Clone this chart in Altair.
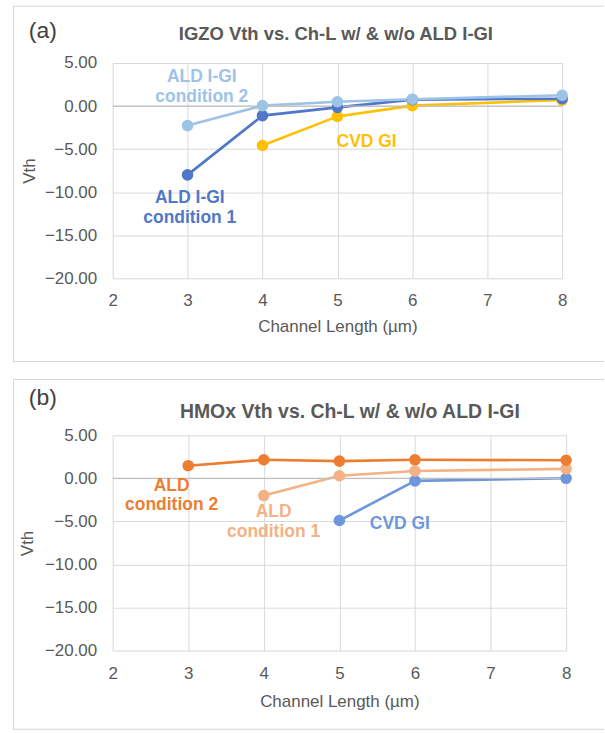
import altair as alt
import pandas as pd

FONT = "Liberation Sans"
GRAY = "#595959"

# ---------- data: panel (a) IGZO ----------
a_series = ["CVD GI", "ALD I-GI condition 1", "ALD I-GI condition 2"]
a_colors = ["#FFC000", "#4F78C8", "#9DC3E6"]
a_x_cvd = [4, 5, 6, 8]
a_y_cvd = [-4.58, -1.2, 0.05, 0.7]
a_x_c1 = [3, 4, 5, 6, 8]
a_y_c1 = [-7.99, -1.11, -0.15, 0.75, 0.85]
a_x_c2 = [3, 4, 5, 6, 8]
a_y_c2 = [-2.27, 0.05, 0.5, 0.8, 1.25]
a_lab_text = ["ALD I-GI\ncondition 2", "ALD I-GI\ncondition 1", "CVD GI"]
a_lab_series = ["ALD I-GI condition 2", "ALD I-GI condition 1", "CVD GI"]
a_lab_x = [3.19, 3.03, 5.39]
a_lab_y = [3.36, -10.69, -4.16]

# ---------- data: panel (b) HMOx ----------
b_series = ["CVD GI", "ALD condition 1", "ALD condition 2"]
b_colors = ["#6E96DC", "#F4B183", "#ED7D31"]
b_x_cvd = [5, 6, 8]
b_y_cvd = [-4.9, -0.3, 0.0]
b_x_c1 = [4, 5, 6, 8]
b_y_c1 = [-2.0, 0.3, 0.85, 1.1]
b_x_c2 = [3, 4, 5, 6, 8]
b_y_c2 = [1.47, 2.16, 2.0, 2.15, 2.1]
b_lab_text = ["ALD\ncondition 2", "ALD\ncondition 1", "CVD GI"]
b_lab_series = ["ALD condition 2", "ALD condition 1", "CVD GI"]
b_lab_x = [2.78, 4.13, 5.8]
b_lab_y = [-0.85, -3.95, -5.31]

x_ticks = [2, 3, 4, 5, 6, 7, 8]
y_ticks = [-20, -15, -10, -5, 0, 5]


def series_df(names, xs, ys):
    rows = []
    for n, xv, yv in zip(names, xs, ys):
        for a, b in zip(xv, yv):
            rows.append({"series": n, "x": a, "y": b})
    return pd.DataFrame(rows)


def panel(names, colors, xs, ys, lab_text, lab_series, lab_x, lab_y,
          tag, title, w, h, tag_xy, title_xy, title_size,
          rect, vth_x, xlab_pad, xtitle_y):
    df = series_df(names, xs, ys)
    color = alt.Color("series:N", scale=alt.Scale(domain=names, range=colors), legend=None)
    xenc = alt.X("x:Q", scale=alt.Scale(domain=[2, 8], nice=False),
                 axis=alt.Axis(values=x_ticks, format="d", labelFlush=False,
                               title="Channel Length (µm)", labelPadding=xlab_pad,
                               titleY=xtitle_y, titleBaseline="middle"))
    yenc = alt.Y("y:Q", scale=alt.Scale(domain=[-20, 5], nice=False),
                 axis=alt.Axis(values=y_ticks, format=".2f", title="Vth", labelPadding=16,
                               titleX=vth_x, titleY=h / 2, titleAngle=270,
                               titleAlign="center", titleBaseline="middle"))
    one = pd.DataFrame({"k": [0]})
    x0, x1, y0, y1 = rect
    bstyle = dict(color="#D6D6D6", strokeWidth=1)
    b_top = alt.Chart(one).mark_rule(**bstyle).encode(
        x=alt.value(x0), x2=alt.value(x1), y=alt.value(y0))
    b_bot = alt.Chart(one).mark_rule(**bstyle).encode(
        x=alt.value(x0), x2=alt.value(x1), y=alt.value(y1))
    b_left = alt.Chart(one).mark_rule(**bstyle).encode(
        x=alt.value(x0), y=alt.value(y0), y2=alt.value(y1))
    zero = alt.Chart(pd.DataFrame({"y": [0]})).mark_rule(color="#BFBFBF", strokeWidth=1.2).encode(
        y=alt.Y("y:Q", scale=alt.Scale(domain=[-20, 5], nice=False)))
    lines = alt.Chart(df).mark_line(strokeWidth=2.6).encode(x=xenc, y=yenc, color=color, detail="series:N")
    points = alt.Chart(df).mark_point(filled=True, size=135, opacity=1).encode(
        x="x:Q", y="y:Q", color=color)
    labdf = pd.DataFrame({"t": lab_text, "series": lab_series, "x": lab_x, "y": lab_y})
    labels = alt.Chart(labdf).mark_text(font=FONT, fontSize=17.5, fontWeight="bold", lineBreak="\n",
                                        lineHeight=19.5, align="center", baseline="middle").encode(
        x="x:Q", y="y:Q", text="t:N", color=color)
    tagc = alt.Chart(pd.DataFrame({"t": [tag]})).mark_text(
        font=FONT, fontSize=23, color="#404040", align="center", baseline="middle").encode(
        text="t:N", x=alt.value(tag_xy[0]), y=alt.value(tag_xy[1]))
    titlec = alt.Chart(pd.DataFrame({"t": [title]})).mark_text(
        font=FONT, fontSize=title_size, fontWeight="bold", color=GRAY, align="center",
        baseline="middle").encode(text="t:N", x=alt.value(title_xy[0]), y=alt.value(title_xy[1]))
    return alt.layer(b_top, b_bot, b_left, lines, zero, points, labels, tagc, titlec).properties(
        width=w, height=h)


pa = panel(a_series, a_colors, [a_x_cvd, a_x_c1, a_x_c2], [a_y_cvd, a_y_c1, a_y_c2],
           a_lab_text, a_lab_series, a_lab_x, a_lab_y,
           "(a)", "IGZO Vth vs. Ch-L w/ & w/o ALD I-GI", 451, 216,
           (-70, -32), (224, -29), 18.5, (-99.5, 493, -57, 299.5), -83, 14, 48)
pb = panel(b_series, b_colors, [b_x_cvd, b_x_c1, b_x_c2], [b_y_cvd, b_y_c1, b_y_c2],
           b_lab_text, b_lab_series, b_lab_x, b_lab_y,
           "(b)", "HMOx Vth vs. Ch-L w/ & w/o ALD I-GI", 455, 216,
           (-70, -37), (238, -23), 19.5, (-99.5, 493, -56, 295), -85, 15, 51)

chart = alt.vconcat(pa, pb, spacing=15.5).resolve_scale(
    color="independent", x="independent", y="independent"
).properties(
    padding={"left": 12, "top": 4, "right": 0, "bottom": 0}, background="white"
).configure_view(stroke="transparent").configure_axis(
    grid=True, gridColor="#D9D9D9", gridWidth=1, domain=False, ticks=False,
    labelFont=FONT, labelFontSize=17, labelColor=GRAY,
    titleFont=FONT, titleFontSize=17, titleFontWeight="normal", titleColor=GRAY
)

chart.save("out.html", embed_options={"renderer": "svg", "actions": False})
